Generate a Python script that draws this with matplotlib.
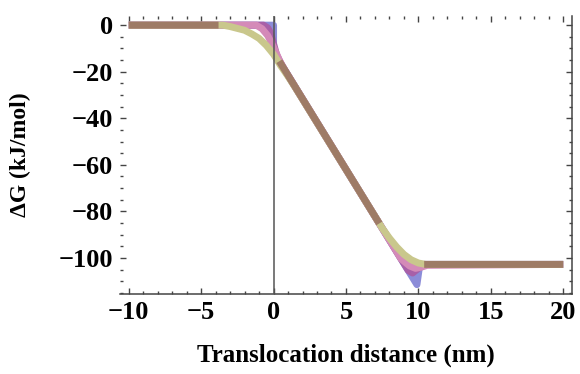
import numpy as np
import matplotlib.pyplot as plt
from matplotlib.ticker import MultipleLocator

# free-energy profiles (x in nm, dG in kJ/mol)
blue_x = [-10, 0, 0.001, 9.9, 10.1, 20]
blue_y = [0, 0, -11.5, -111.5, -102.8, -102.8]

purple_x = [-10, -0.7, -0.4, -0.2, 0, 0.2, 0.5, 9.3, 9.6, 9.9, 10.2, 10.4, 20]
purple_y = [0, 0, -1.2, -3.5, -8, -12.5, -16.5, -105.4, -106.5, -105, -103.3, -102.8, -102.8]

pink_x = [-10, -1.2, -0.8, -0.4, 0, 0.4, 0.8, 8.8, 9.4, 9.8, 10.2, 10.6, 20]
pink_y = [0, 0, -1.5, -4.5, -9.5, -15, -19.6, -100.4, -103.5, -104.5, -104, -103.2, -102.8]

yellow_x = [-10, -3.5, -3, -2, -1.5, -1, -0.5, 0, 0.5, 1, 1.5, 7.5, 8, 8.5, 9, 9.5, 10, 10.5, 20]
yellow_y = [0, 0, -0.6, -2.2, -3.8, -5.7, -8.7, -12.5, -17.5, -22, -26.8, -87.2, -91.5, -95.3, -98.5, -100.8, -102.2, -102.8, -102.8]

# where all curves overlap
brown_x = [-10, -3.8, np.nan, 0.4, 7.3, np.nan, 10.4, 20]
brown_y = [0, 0, np.nan, -15.5, -85.2, np.nan, -102.8, -102.8]

plt.rcParams['font.family'] = ['Liberation Serif', 'DejaVu Serif']
plt.rcParams['font.weight'] = 'bold'

fig = plt.figure(figsize=(5.8, 3.74), dpi=100)
ax = fig.add_axes([0.207, 0.214, 0.779, 0.743])

lw = 5
ax.plot(blue_x, blue_y, color='#8c8cd8', lw=lw, solid_capstyle='butt', solid_joinstyle='round')
ax.plot(purple_x, purple_y, color='#a860a8', lw=lw, solid_capstyle='butt', solid_joinstyle='round')
ax.plot(pink_x, pink_y, color='#d48ab8', lw=lw, solid_capstyle='butt', solid_joinstyle='round')
ax.plot(yellow_x, yellow_y, color='#c9c78c', lw=lw, solid_capstyle='butt', solid_joinstyle='round')
ax.plot(brown_x, brown_y, color='#9e7b66', lw=lw, solid_capstyle='butt', solid_joinstyle='round')

ax.axvline(0, color='#555555', lw=1.1, zorder=5)

ax.set_xlim(-10.6, 20.6)
ax.set_ylim(-115.5, 3.9)

ax.spines['left'].set_visible(False)
ax.spines['top'].set_visible(False)
ax.spines['bottom'].set_color('#444444')
ax.spines['right'].set_color('#444444')
ax.spines['bottom'].set_linewidth(1.1)
ax.spines['right'].set_linewidth(1.1)

ax.xaxis.set_major_locator(MultipleLocator(5))
ax.xaxis.set_minor_locator(MultipleLocator(1))
ax.yaxis.set_major_locator(MultipleLocator(20))
ax.yaxis.set_minor_locator(MultipleLocator(5))
ax.tick_params(which='both', direction='in', top=True, right=True, color='#444444', width=1.0)
ax.tick_params(which='major', length=4, labelsize=19, pad=5)
ax.tick_params(which='minor', length=2)

ax.set_xlabel('Translocation distance (nm)', fontsize=18, fontweight='bold', labelpad=14)
ax.set_ylabel('ΔG (kJ/mol)', fontsize=17, fontweight='bold', labelpad=20)

fig.savefig('out.png', dpi=100)
